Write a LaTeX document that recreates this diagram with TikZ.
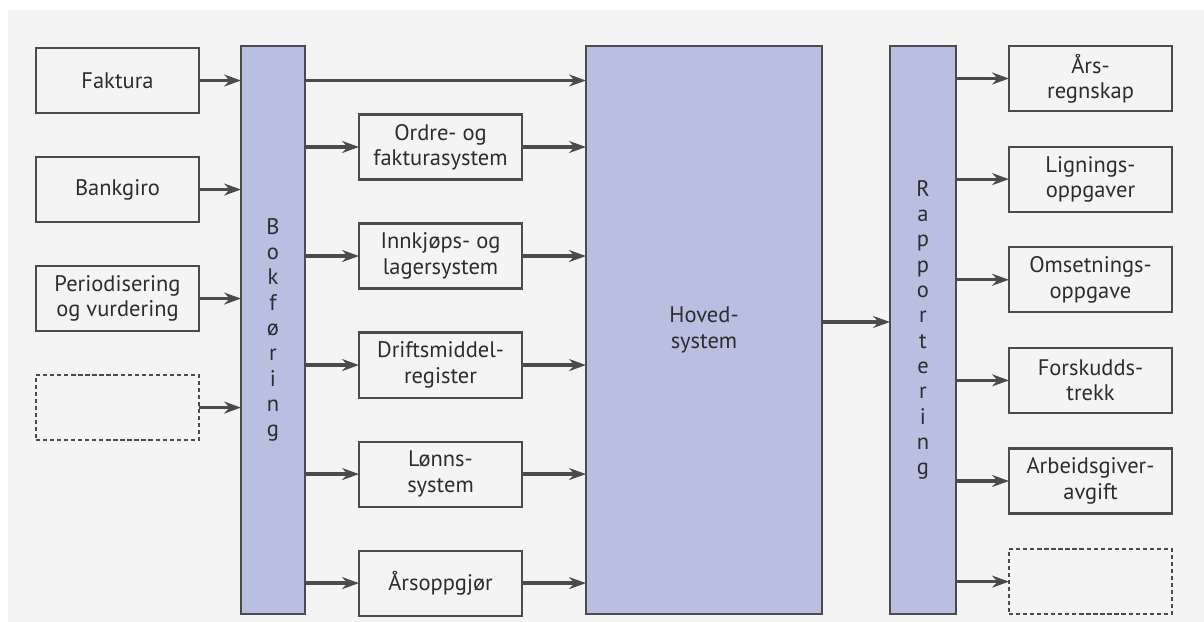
\documentclass[tikz,border=0pt]{standalone}
\usepackage{fontspec}
\setmainfont{PT Sans}
\usetikzlibrary{arrows.meta}
\usetikzlibrary{positioning}
\definecolor{barblue}{RGB}{184,191,225}
\definecolor{linegray}{RGB}{75,75,75}
\definecolor{textgray}{RGB}{45,45,45}
\definecolor{paper}{RGB}{244,244,244}

\begin{document}
\begin{tikzpicture}[->,>={Stealth[length=12pt,width=8.5pt]},x=0.025cm,y=-0.025cm,node distance = 1.1cm,line width=2.3pt,color=linegray,font=\fontsize{16}{18}\selectfont]
\tikzstyle{box}=[draw=linegray,line width=1.5pt,text=textgray,minimum width=4.075cm,minimum height=1.625cm,inner sep=0pt,outer sep=0pt,align=center]
\tikzstyle{blank}=[box,dash pattern=on 3pt off 2pt]
\tikzstyle{bar}=[draw=linegray,line width=1.5pt,fill=barblue,text=textgray,minimum height=14.2cm,inner sep=0pt,outer sep=0pt,align=center]

\useasboundingbox (0,0) rectangle (1204,622);
\fill[white,-] (0,0) rectangle (1204,622);
\fill[paper,-] (8,10) rectangle (1204,622);

\node[bar, minimum width=1.6cm]	(bok)	at (273,330)	{B\\o\\k\\f\\ø\\r\\i\\n\\g};
\node[bar, minimum width=5.9cm]	(hov)	at (704,330)	{Hoved-\\system};
\node[bar, minimum width=1.65cm]	(rap)	at (923,330)	{R\\a\\p\\p\\o\\r\\t\\e\\r\\i\\n\\g};

\node[box]	(fak)	at (117.5,80.5)			{Faktura};
\node[box]	(bank)	[below= of fak]			{Bankgiro};
\node[box]	(per)	[below= of bank]		{Periodisering\\og vurdering};
\node[blank]	(tomv)	[below= of per]			{};

\node[box]	(ordre)	at (440.5,147)			{Ordre- og\\fakturasystem};
\node[box]	(lager)	[below= of ordre]		{Innkjøps- og\\lagersystem};
\node[box]	(drift)	[below= of lager]		{Driftsmiddel-\\register};
\node[box]	(lonn)	[below= of drift]		{Lønns-\\system};
\node[box]	(arsopp)	[below= of lonn]		{Årsoppgjør};

\node[box]	(arsr)	at (1090.5,78.5)		{Års-\\regnskap};
\node[box]	(lign)	[below=0.89cm of arsr]	{Lignings-\\oppgaver};
\node[box]	(oms)	[below=0.89cm of lign]	{Omsetnings-\\oppgave};
\node[box]	(forsk)	[below=0.89cm of oms]	{Forskudds-\\trekk};
\node[box]	(aga)	[below=0.89cm of forsk]	{Arbeidsgiver-\\avgift};
\node[blank]	(tomh)	[below=0.89cm of aga]	{};

\path(fak)		edge	(fak -| bok.west)
	 (bank)		edge	(bank -| bok.west)
	 (per)		edge	(per -| bok.west)
	 (tomv)		edge	(tomv -| bok.west)
	 (bok.east |- fak)	edge	(hov.west |- fak)
	 (bok.east |- ordre)	edge	(ordre)
	 (bok.east |- lager)	edge	(lager)
	 (bok.east |- drift)	edge	(drift)
	 (bok.east |- lonn)	edge	(lonn)
	 (bok.east |- arsopp)	edge	(arsopp)
	 (ordre)	edge	(ordre -| hov.west)
	 (lager)	edge	(lager -| hov.west)
	 (drift)	edge	(drift -| hov.west)
	 (lonn)		edge	(lonn -| hov.west)
	 (arsopp)	edge	(arsopp -| hov.west)
	 ([yshift=0.2cm]hov.east)	edge	([yshift=0.2cm]rap.west)
	 (rap.east |- arsr)	edge	(arsr)
	 (rap.east |- lign)	edge	(lign)
	 (rap.east |- oms)	edge	(oms)
	 (rap.east |- forsk)	edge	(forsk)
	 (rap.east |- aga)	edge	(aga)
	 (rap.east |- tomh)	edge	(tomh);
\end{tikzpicture}
\end{document}
